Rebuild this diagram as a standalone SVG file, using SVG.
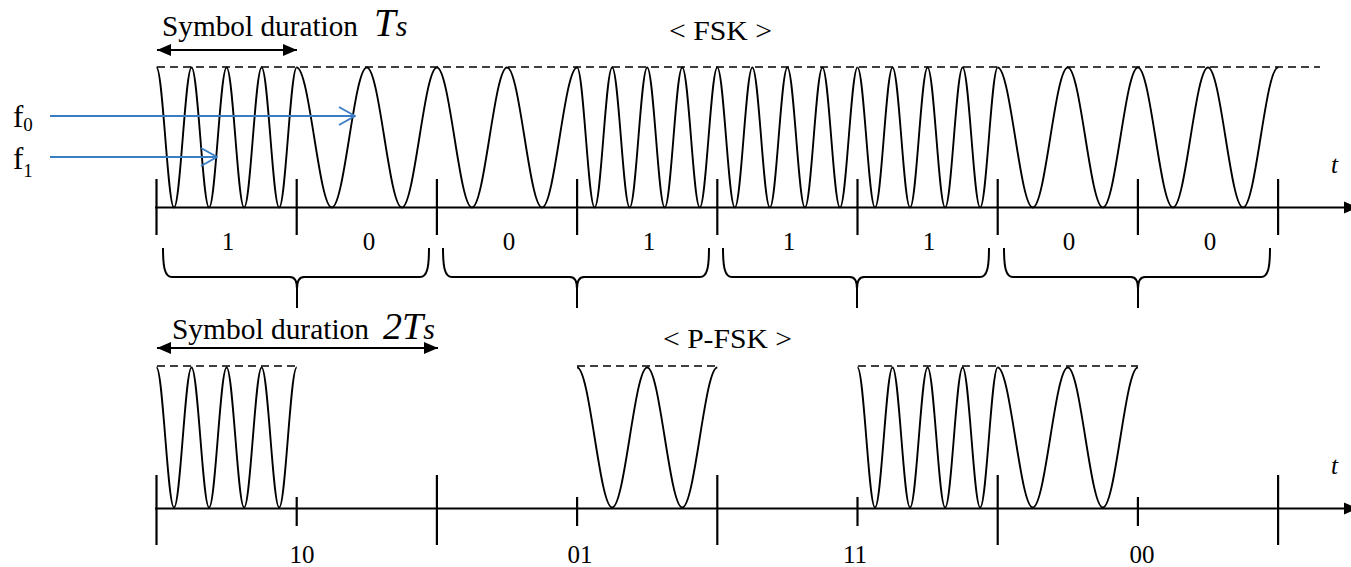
<svg xmlns="http://www.w3.org/2000/svg" xmlns:xlink="http://www.w3.org/1999/xlink" width="1351" height="567" viewBox="0 0 1351 567">
<style>
.wave{fill:none;stroke:#000;stroke-width:1.9;stroke-linejoin:round}
.dash{fill:none;stroke:#000;stroke-width:1.7;stroke-dasharray:8 5}
.axis{stroke:#000;stroke-width:2.2}
.tick{stroke:#000;stroke-width:2.2}
.brace{fill:none;stroke:#000;stroke-width:2}
.txt{font-family:"Liberation Serif","Times New Roman",serif;fill:#000}
.it{font-family:"Liberation Serif","Times New Roman",serif;font-style:italic;fill:#000}
.blue{stroke:#3b7dc4;stroke-width:1.8;fill:none}
.dur{stroke:#000;stroke-width:2;fill:none}
</style>
<defs>
<marker id="ah" viewBox="0 0 14 12" refX="14" refY="6" markerWidth="14" markerHeight="12" markerUnits="userSpaceOnUse" orient="auto-start-reverse"><path d="M0,0 L14,6 L0,12 z" fill="#000"/></marker>
<marker id="bh" viewBox="0 0 18 20" refX="17" refY="10" markerWidth="18" markerHeight="20" markerUnits="userSpaceOnUse" orient="auto"><path d="M1,1 L17,10 L1,19" fill="none" stroke="#3b7dc4" stroke-width="1.8"/></marker>
<path id="w1" class="wave" d="M0,0 c6.369,0 11.156,140 17.525,140 s11.156,-140 17.525,-140 s11.156,140 17.525,140 s11.156,-140 17.525,-140 s11.156,140 17.525,140 s11.156,-140 17.525,-140 s11.156,140 17.525,140 s11.156,-140 17.525,-140"/>
<path id="w0" class="wave" d="M0,0 c12.737,0 22.313,140 35.05,140 s22.313,-140 35.05,-140 s22.313,140 35.05,140 s22.313,-140 35.05,-140"/>
<path id="brace" class="brace" d="M0,0 C0,20 2,29 9,29 L127,29 C132,29 134,33 134,41 L134,60 M134,41 C134,33 136,29 141,29 L257,29 C264,29 266,20 266,0"/>
</defs>

<g id="fsk-title"><text class="txt" font-family="Liberation Serif, serif" x="669" y="40" font-size="28" textLength="103" lengthAdjust="spacingAndGlyphs">&lt; FSK &gt;</text></g>

<g id="ts-label">
<text class="txt" font-family="Liberation Serif, serif" x="162" y="36" font-size="29" textLength="196" lengthAdjust="spacingAndGlyphs">Symbol duration</text>
<text class="it" font-family="Liberation Serif, serif" x="374" y="36"><tspan font-size="39">T</tspan><tspan font-size="30">s</tspan></text>
<line class="dur" x1="157" y1="50" x2="297" y2="50" marker-start="url(#ah)" marker-end="url(#ah)"/>
</g>

<g id="f-labels">
<text class="txt" font-family="Liberation Serif, serif" x="13" y="127" font-size="31">f<tspan font-size="19" dy="4">0</tspan></text>
<text class="txt" font-family="Liberation Serif, serif" x="13" y="169" font-size="31">f<tspan font-size="19" dy="8">1</tspan></text>
</g>

<g id="fsk-signal">
<line class="dash" x1="157" y1="67" x2="1320" y2="67"/>
<use xlink:href="#w1" x="156.5" y="67.5"/>
<use xlink:href="#w0" x="296.7" y="67.5"/>
<use xlink:href="#w0" x="436.9" y="67.5"/>
<use xlink:href="#w1" x="577.1" y="67.5"/>
<use xlink:href="#w1" x="717.3" y="67.5"/>
<use xlink:href="#w1" x="857.5" y="67.5"/>
<use xlink:href="#w0" x="997.7" y="67.5"/>
<use xlink:href="#w0" x="1137.9" y="67.5"/>
</g>

<g id="fsk-axis">
<line class="axis" x1="155" y1="207.5" x2="1346" y2="207.5"/>
<polygon points="1344,201.5 1358,207.5 1344,213.5" fill="#000"/>
<g class="tick">
<line x1="156.5" y1="179" x2="156.5" y2="235"/>
<line x1="296.7" y1="179" x2="296.7" y2="235"/>
<line x1="436.9" y1="179" x2="436.9" y2="235"/>
<line x1="577.1" y1="179" x2="577.1" y2="235"/>
<line x1="717.3" y1="179" x2="717.3" y2="235"/>
<line x1="857.5" y1="179" x2="857.5" y2="235"/>
<line x1="997.7" y1="179" x2="997.7" y2="235"/>
<line x1="1137.9" y1="179" x2="1137.9" y2="235"/>
<line x1="1278.1" y1="179" x2="1278.1" y2="235"/>
</g>
<text class="it" font-family="Liberation Serif, serif" x="1331" y="173" font-size="25" fill="#2a3550">t</text>
</g>

<g id="bits" class="txt" font-family="Liberation Serif, serif" font-size="25" text-anchor="middle">
<text x="228" y="250">1</text>
<text x="369" y="250">0</text>
<text x="509" y="250">0</text>
<text x="649" y="250">1</text>
<text x="789" y="250">1</text>
<text x="929" y="250">1</text>
<text x="1069" y="250">0</text>
<text x="1210" y="250">0</text>
</g>

<g id="braces">
<use xlink:href="#brace" transform="translate(163,248)"/>
<use xlink:href="#brace" transform="translate(443,248)"/>
<use xlink:href="#brace" transform="translate(723,248)"/>
<use xlink:href="#brace" transform="translate(1004,248)"/>
</g>

<g id="connectors">
<line class="blue" x1="50" y1="116" x2="355" y2="116" marker-end="url(#bh)"/>
<line class="blue" x1="50" y1="157" x2="217" y2="157" marker-end="url(#bh)"/>
</g>

<g id="pfsk-title"><text class="txt" font-family="Liberation Serif, serif" x="663" y="348" font-size="28" textLength="129" lengthAdjust="spacingAndGlyphs">&lt; P-FSK &gt;</text></g>

<g id="2ts-label">
<text class="txt" font-family="Liberation Serif, serif" x="172" y="339" font-size="29" textLength="197" lengthAdjust="spacingAndGlyphs">Symbol duration</text>
<text class="it" font-family="Liberation Serif, serif" x="383" y="339"><tspan font-size="38">2T</tspan><tspan font-size="30">s</tspan></text>
<line class="dur" x1="157" y1="348" x2="438" y2="348" marker-start="url(#ah)" marker-end="url(#ah)"/>
</g>

<g id="pfsk-signal">
<line class="dash" x1="157" y1="366" x2="297" y2="366"/>
<line class="dash" x1="577" y1="366" x2="717" y2="366"/>
<line class="dash" x1="858" y1="366" x2="1138" y2="366"/>
<use xlink:href="#w1" x="156.5" y="367.5"/>
<use xlink:href="#w0" x="577.1" y="367.5"/>
<use xlink:href="#w1" x="857.5" y="367.5"/>
<use xlink:href="#w0" x="997.7" y="367.5"/>
</g>

<g id="pfsk-axis">
<line class="axis" x1="155" y1="508.5" x2="1346" y2="508.5"/>
<polygon points="1344,502.5 1358,508.5 1344,514.5" fill="#000"/>
<g class="tick">
<line x1="156.5" y1="475" x2="156.5" y2="545"/>
<line x1="296.7" y1="497" x2="296.7" y2="526"/>
<line x1="436.9" y1="475" x2="436.9" y2="545"/>
<line x1="577.1" y1="497" x2="577.1" y2="526"/>
<line x1="717.3" y1="475" x2="717.3" y2="545"/>
<line x1="857.5" y1="497" x2="857.5" y2="526"/>
<line x1="997.7" y1="475" x2="997.7" y2="545"/>
<line x1="1137.9" y1="497" x2="1137.9" y2="526"/>
<line x1="1278.1" y1="475" x2="1278.1" y2="545"/>
</g>
<text class="it" font-family="Liberation Serif, serif" x="1331" y="474" font-size="25" fill="#2a3550">t</text>
</g>

<g id="symbols" class="txt" font-family="Liberation Serif, serif" font-size="25" text-anchor="middle">
<text x="302" y="563">10</text>
<text x="580" y="563">01</text>
<text x="855" y="563">11</text>
<text x="1142" y="563">00</text>
</g>
</svg>
